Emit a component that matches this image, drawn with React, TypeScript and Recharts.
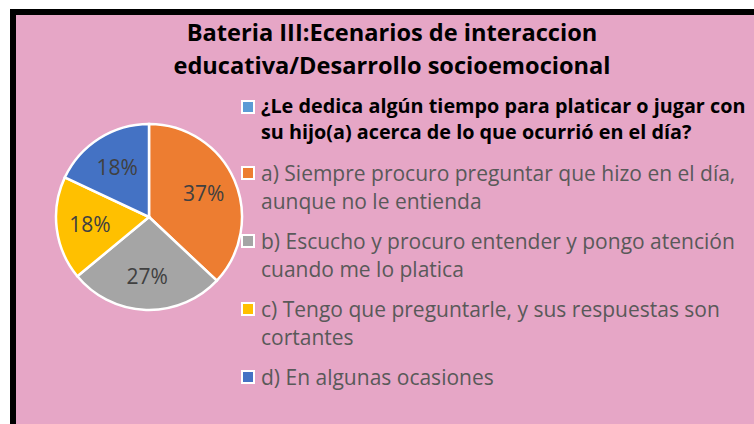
import { PieChart, Pie, Cell, Legend } from 'recharts'

const titleLines = ['Bateria III:Ecenarios de interaccion', 'educativa/Desarrollo socioemocional']
const question = '¿Le dedica algún tiempo para platicar o jugar con\nsu hijo(a) acerca de lo que ocurrió en el día?'
const answers = [
  'a) Siempre procuro preguntar que hizo en el día,\naunque no le entienda',
  'b) Escucho y procuro entender y pongo atención\ncuando me lo platica',
  'c) Tengo que preguntarle, y sus respuestas son\ncortantes',
  'd) En algunas ocasiones',
]
const percents = [37, 27, 18, 18]
const sliceColors = ['#ED7D31', '#A5A5A5', '#FFC000', '#4472C4']
const questionColor = '#5B9BD5'

const FONT = '"Open Sans", "Noto Sans", sans-serif'
const PINK = '#E6A6C6'
const RAD = Math.PI / 180

const data = answers.map((name, i) => ({ name, value: percents[i] }))

function SliceLabel({ cx, cy, midAngle, outerRadius, value }: any) {
  const r = outerRadius * 0.64
  const x = cx + r * Math.cos(-midAngle * RAD)
  const y = cy + r * Math.sin(-midAngle * RAD)
  return (
    <text x={x} y={y} fill="#404040" fontSize={21} fontFamily={FONT} textAnchor="middle" dominantBaseline="central">
      {`${value}%`}
    </text>
  )
}

function Marker({ color }: { color: string }) {
  return (
    <span
      style={{
        display: 'inline-block',
        width: 10,
        height: 10,
        background: color,
        border: '2.5px solid #fff',
        marginTop: 7,
        flexShrink: 0,
      }}
    />
  )
}

function LegendBox() {
  const items = [
    { text: question, color: questionColor, bold: true },
    ...answers.map((a, i) => ({ text: a, color: sliceColors[i], bold: false })),
  ]
  return (
    <div style={{ fontFamily: FONT }}>
      {items.map((it, i) => (
        <div key={i} style={{ display: 'flex', gap: 6, marginBottom: i === 0 ? 14 : 12 }}>
          <Marker color={it.color} />
          <div
            style={{
              whiteSpace: 'pre',
              lineHeight: it.bold ? '26px' : '28px',
              fontWeight: it.bold ? 700 : 400,
              fontSize: it.bold ? 19.8 : 21,
              color: it.bold ? '#000' : '#595959',
            }}
          >
            {it.text}
          </div>
        </div>
      ))}
    </div>
  )
}

export default function App() {
  return (
    <div style={{ position: 'absolute', left: 0, top: 0, width: 754, height: 424, overflow: 'hidden', background: '#fff' }}>
      <div
        style={{
          position: 'absolute',
          left: 10,
          top: 9,
          width: 800,
          height: 412,
          border: '6px solid #000',
          background: PINK,
        }}
      />
      <div
        style={{
          position: 'absolute',
          left: 0,
          top: 16,
          width: 784,
          textAlign: 'center',
          fontFamily: FONT,
          fontWeight: 700,
          fontSize: 23.6,
          lineHeight: '33px',
          color: '#000',
        }}
      >
        {titleLines.map((t) => (
          <div key={t}>{t}</div>
        ))}
      </div>
      <div style={{ position: 'absolute', left: 0, top: 0 }}>
        <PieChart width={754} height={424} margin={{ top: 0, right: 0, bottom: 0, left: 0 }}>
          <Pie
            data={data}
            dataKey="value"
            nameKey="name"
            cx={149}
            cy={217}
            outerRadius={93}
            startAngle={90}
            endAngle={-270}
            stroke="#fff"
            strokeWidth={2.5}
            label={SliceLabel}
            labelLine={false}
            isAnimationActive={false}
          >
            {data.map((d, i) => (
              <Cell key={d.name} fill={sliceColors[i]} />
            ))}
          </Pie>
          <Legend
            content={() => <LegendBox />}
            wrapperStyle={{ position: 'absolute', left: 241, top: 93, width: 513, bottom: 'auto', right: 'auto' }}
          />
        </PieChart>
      </div>
    </div>
  )
}
